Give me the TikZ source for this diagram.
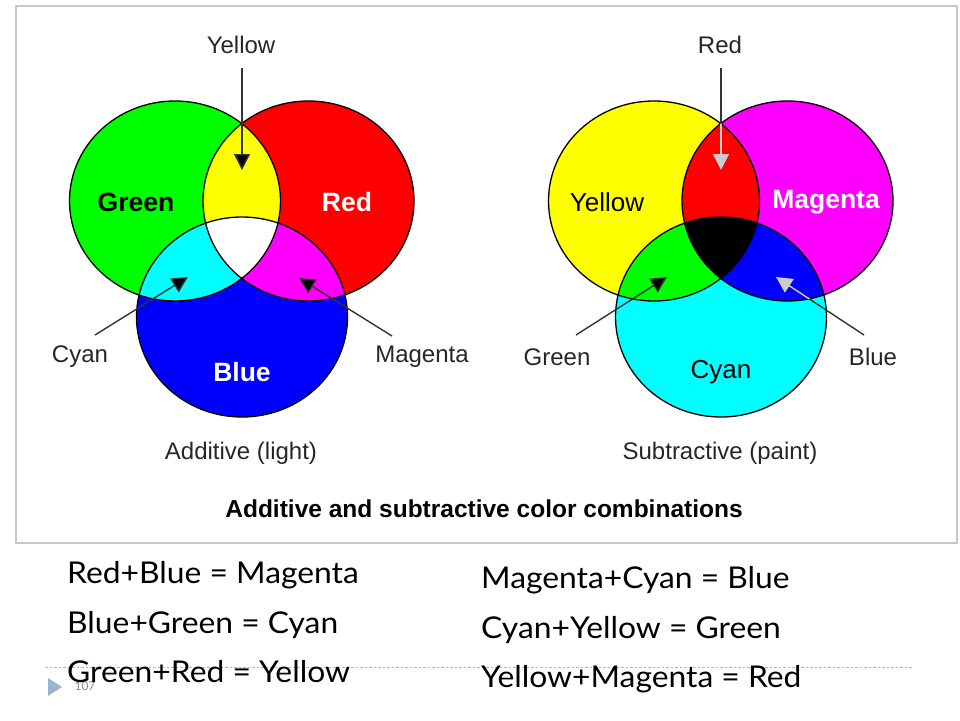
\documentclass[tikz,border=0pt]{standalone}
\usepackage{fontspec}
\setmainfont{Liberation Sans}
\newfontfamily\gillfont{Lato}
\usetikzlibrary{arrows.meta}
\definecolor{framegray}{RGB}{200,200,200}
\definecolor{slideblue}{RGB}{155,180,204}
\definecolor{dashblue}{RGB}{170,185,200}
\definecolor{pgreen}{RGB}{0,255,0}
\definecolor{pred}{RGB}{255,0,0}
\definecolor{pblue}{RGB}{0,0,255}
\definecolor{pyellow}{RGB}{255,255,0}
\definecolor{pcyan}{RGB}{0,255,255}
\definecolor{pmagenta}{RGB}{255,0,255}
\newcommand\Ell{ellipse [x radius=105.5pt, y radius=100pt]}
\tikzset{
  lbl/.style={font=\fontsize{24}{28}\selectfont, text=black!85, inner sep=0},
  boldlbl/.style={font=\fontsize{26.5}{30}\selectfont\bfseries, inner sep=0},
  biglbl/.style={font=\fontsize{26}{30}\selectfont, inner sep=0},
  ptr/.style={draw=black!80, line width=1.4pt, -{Triangle[length=16pt,width=16pt,fill=black]}},
  ptrlight/.style={draw=black!20, line width=1.4pt, -{Triangle[length=16pt,width=16pt,fill=black!20]}},
  eqn/.style={font=\gillfont\fontsize{30}{34}\selectfont, anchor=base west, inner sep=0},
  ring/.style={draw=black, line width=1.3pt},
}
\newcommand\wide[1]{\scalebox{1.06}[1]{#1}}
\begin{document}
\begin{tikzpicture}[x=1pt,y=-1pt]
\useasboundingbox (0,0) rectangle (960,720);
% frame
\draw[framegray, line width=1.6pt] (16,6) rectangle (957,543);

% ---------- Additive ----------
\coordinate (G) at (175,201);
\coordinate (R) at (308.5,201);
\coordinate (B) at (242,317);
\fill[pgreen] (G) \Ell;
\fill[pred] (R) \Ell;
\fill[pblue] (B) \Ell;
\begin{scope}\clip (G) \Ell; \fill[pyellow] (R) \Ell; \end{scope}
\begin{scope}\clip (G) \Ell; \fill[pcyan] (B) \Ell; \end{scope}
\begin{scope}\clip (R) \Ell; \fill[pmagenta] (B) \Ell; \end{scope}
\begin{scope}\clip (G) \Ell; \clip (R) \Ell; \fill[white] (B) \Ell; \end{scope}
\draw[ring] (G) \Ell (R) \Ell (B) \Ell;

\node[boldlbl] (lgreen) at (136,202) {Green};
\node[boldlbl, text=white] (lred) at (347,202) {Red};
\node[boldlbl, text=white] (lblue) at (242,372) {Blue};

\node[lbl] (lyellow) at (241,45) {Yellow};
\node[lbl] (lcyan) at (80,357) {Cyan};
\node[lbl] (lmagenta) at (422,357) {Magenta};
\coordinate (ya) at (242,68);
\coordinate (yt) at (242,170);
\coordinate (ca) at (95,335);
\coordinate (ct) at (188,277);
\coordinate (ma) at (392,336);
\coordinate (mt) at (299,278);
\draw[ptr] (ya) -- (yt);
\draw[ptr] (ca) -- (ct);
\draw[ptr] (ma) -- (mt);
\node[lbl] (capadd) at (241,453) {Additive (light)};

% ---------- Subtractive ----------
\coordinate (Y) at (654,201);
\coordinate (M) at (787.5,201);
\coordinate (C) at (721,317);
\fill[pyellow] (Y) \Ell;
\fill[pmagenta] (M) \Ell;
\fill[pcyan] (C) \Ell;
\begin{scope}\clip (Y) \Ell; \fill[pred] (M) \Ell; \end{scope}
\begin{scope}\clip (Y) \Ell; \fill[pgreen] (C) \Ell; \end{scope}
\begin{scope}\clip (M) \Ell; \fill[pblue] (C) \Ell; \end{scope}
\begin{scope}\clip (Y) \Ell; \clip (M) \Ell; \fill[black] (C) \Ell; \end{scope}
\draw[ring] (Y) \Ell (M) \Ell (C) \Ell;

\node[biglbl] (syellow) at (607,202) {Yellow};
\node[boldlbl, text=white] (smagenta) at (826,202) {Magenta};
\node[biglbl] (scyan) at (721,372) {Cyan};

\node[lbl] (sred) at (720,45) {Red};
\node[lbl] (sgreen) at (557,357) {Green};
\node[lbl] (sblue) at (873,357) {Blue};
\coordinate (ra) at (721,68);
\coordinate (rt) at (721,170);
\coordinate (ga) at (576,335);
\coordinate (gt) at (667,277);
\coordinate (ba) at (864,335);
\coordinate (bt) at (776,277);
\draw[ptr] (ra) -- (rt);
\draw[ptr] (ga) -- (gt);
\draw[ptr] (ba) -- (bt);
\begin{scope}\clip (Y) \Ell; \clip (M) \Ell; \draw[ptrlight] (ra) -- (rt); \end{scope}
\begin{scope}\clip (M) \Ell; \clip (C) \Ell; \draw[ptrlight] (ba) -- (bt); \end{scope}
\node[lbl] (capsub) at (720,453) {Subtractive (paint)};

\node[font=\fontsize{24.5}{28}\selectfont\bfseries, inner sep=0] (title) at (484,509) {Additive and subtractive color combinations};

% ---------- slide text ----------
\coordinate (dl) at (45,667);
\coordinate (dr) at (912,667);
\draw[dashblue, line width=0.9pt, dash pattern=on 2.5pt off 2pt] (dl) -- (dr);
\fill[slideblue] (48,678) -- (62,687) -- (48,696) -- cycle;
\node[font=\gillfont\fontsize{12}{14}\selectfont, text=black!45, inner sep=0] (pg) at (85,686) {107};

\node[eqn] (e1) at (67,583) {\wide{Red+Blue = Magenta}};
\node[eqn] (e2) at (67,633) {\wide{Blue+Green = Cyan}};
\node[eqn] (e3) at (67,682) {\wide{Green+Red = Yellow}};
\node[eqn] (e4) at (481,588) {\wide{Magenta+Cyan = Blue}};
\node[eqn] (e5) at (481,638) {\wide{Cyan+Yellow = Green}};
\node[eqn] (e6) at (481,687) {\wide{Yellow+Magenta = Red}};
\end{tikzpicture}
\end{document}
